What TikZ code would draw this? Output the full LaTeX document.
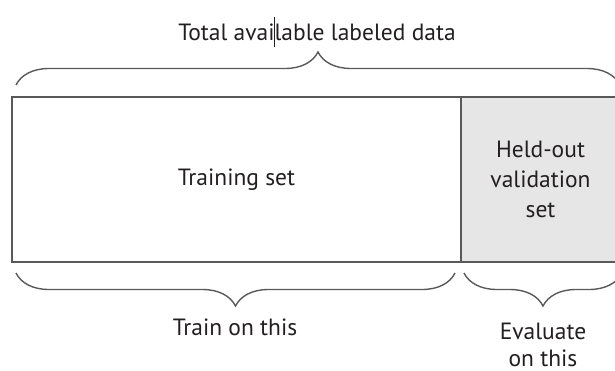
\documentclass[tikz,border=0pt]{standalone}
\usepackage{fontspec}
\setmainfont{PT Sans}
\usetikzlibrary{decorations.pathreplacing}
\definecolor{txt}{HTML}{231F20}
\definecolor{edge}{HTML}{595959}
\definecolor{held}{HTML}{E6E6E6}
\newcommand{\caretmark}{\makebox[0pt]{\raisebox{-7pt}{\rule{1.2pt}{30pt}}}}
\tikzset{
  part/.style={draw=edge, line width=1.6pt, minimum height=165pt, inner sep=0pt, text=txt, align=center, font=\fontsize{23.5}{30}\selectfont},
  lbl/.style={text=txt, align=center, inner sep=0pt, font=\fontsize{23.5}{27}\selectfont},
  bracestyle/.style={draw=edge, line width=1.4pt, decorate, decoration={brace, amplitude=33pt}}
}
\begin{document}
\begin{tikzpicture}[x=1pt,y=-1pt]
\useasboundingbox (0,0) rectangle (615,370);
\node[part, minimum width=449pt] (train) at (236.5,179.5) {Training set};
\node[part, fill=held, minimum width=159pt, text width=150pt] (val) at (540.5,179.5) {Held-out\\validation\\set};
\node[lbl] (total) at (317,32) {Total avai\caretmark lable labeled data};
\node[lbl] (trainlbl) at (235,327) {Train on this};
\node[lbl] (evallbl) at (543,345) {Evaluate\\on this};
\coordinate (tl) at (16,85);
\coordinate (tr) at (620,85);
\coordinate (bl1) at (455,273);
\coordinate (bl0) at (16,273);
\coordinate (br1) at (622,273);
\coordinate (br0) at (464,273);
\draw[bracestyle] (tl) -- (tr);
\draw[bracestyle] (bl1) -- (bl0);
\draw[bracestyle] (br1) -- (br0);
\end{tikzpicture}
\end{document}
